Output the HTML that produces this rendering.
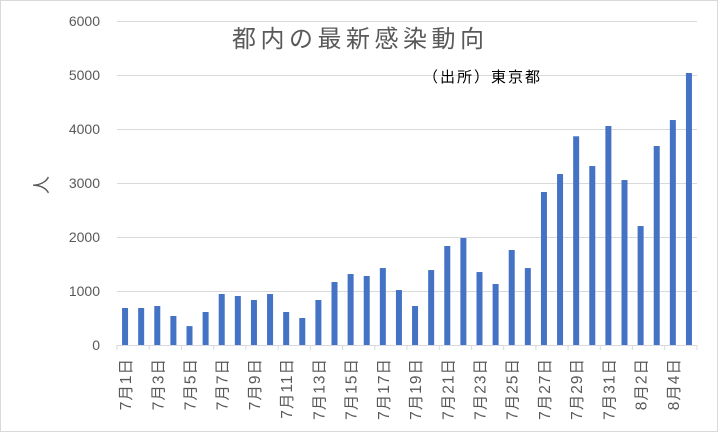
<!DOCTYPE html>
<html><head><meta charset="utf-8"><style>
html,body{margin:0;padding:0;background:#fff}
svg{display:block}
text{font-family:"Liberation Sans","Noto Sans CJK JP",sans-serif}
</style></head><body>
<svg width="719" height="434" viewBox="0 0 719 434" xmlns="http://www.w3.org/2000/svg">
<rect x="0.5" y="0.5" width="717" height="431" fill="#fff" stroke="#d9d9d9"/>
<g stroke="#d9d9d9" stroke-width="1">
<line x1="117" x2="697" y1="21.5" y2="21.5"/>
<line x1="117" x2="697" y1="75.5" y2="75.5"/>
<line x1="117" x2="697" y1="129.5" y2="129.5"/>
<line x1="117" x2="697" y1="183.5" y2="183.5"/>
<line x1="117" x2="697" y1="237.5" y2="237.5"/>
<line x1="117" x2="697" y1="291.5" y2="291.5"/>
<line x1="117" x2="697" y1="345.5" y2="345.5"/>
</g>
<g font-size="14" fill="#595959" text-anchor="end">
<text x="100" y="26">6000</text><text x="100" y="80">5000</text><text x="100" y="134">4000</text>
<text x="100" y="188">3000</text><text x="100" y="242">2000</text><text x="100" y="296">1000</text><text x="100" y="350">0</text>
</g>
<text font-size="18" fill="#595959" transform="translate(48,185) rotate(-90)" text-anchor="middle">人</text>
<text x="232" y="47" font-size="24" fill="#595959" textLength="252" lengthAdjust="spacing">都内の最新感染動向</text>
<text x="423" y="82" font-size="15" fill="#000" textLength="117" lengthAdjust="spacing">（出所）東京都</text>
<g id="bars" fill="#4472c4"></g>
<g id="ticks" stroke="#d9d9d9"></g>
<g id="labels" font-size="15.5" fill="#595959"></g>
<script>
var v=[685,685,722,537,350,611,944,907,833,944,611,500,833,1166,1314,1278,1425,1018,722,1388,1833,1981,1351,1129,1759,1425,2833,3166,3865,3314,4055,3055,2203,3685,4166,5037];
var ns="http://www.w3.org/2000/svg",x0=117,w=580/36;
var b=document.getElementById("bars"),t=document.getElementById("ticks"),l=document.getElementById("labels");
for(var i=0;i<36;i++){var c=x0+w*(i+0.5),h=v[i]*0.054;
var r=document.createElementNS(ns,"rect");r.setAttribute("x",c-3);r.setAttribute("width",6);r.setAttribute("y",345-h);r.setAttribute("height",h);b.appendChild(r);
if(i%2==0){var ln=document.createElementNS(ns,"line");var tx=x0+w*i;ln.setAttribute("x1",tx);ln.setAttribute("x2",tx);ln.setAttribute("y1",345);ln.setAttribute("y2",350);t.appendChild(ln);
var d=i<31?("7月"+(i+1)+"日"):("8月"+(i-30)+"日");
var tt=document.createElementNS(ns,"text");tt.setAttribute("transform","translate("+(c+6)+",358) rotate(-90)");tt.setAttribute("text-anchor","end");tt.setAttribute("letter-spacing","1");tt.textContent=d;l.appendChild(tt);}
}
var ln=document.createElementNS(ns,"line");ln.setAttribute("x1",697);ln.setAttribute("x2",697);ln.setAttribute("y1",345);ln.setAttribute("y2",350);t.appendChild(ln);
</script>
</svg>
</body></html>
